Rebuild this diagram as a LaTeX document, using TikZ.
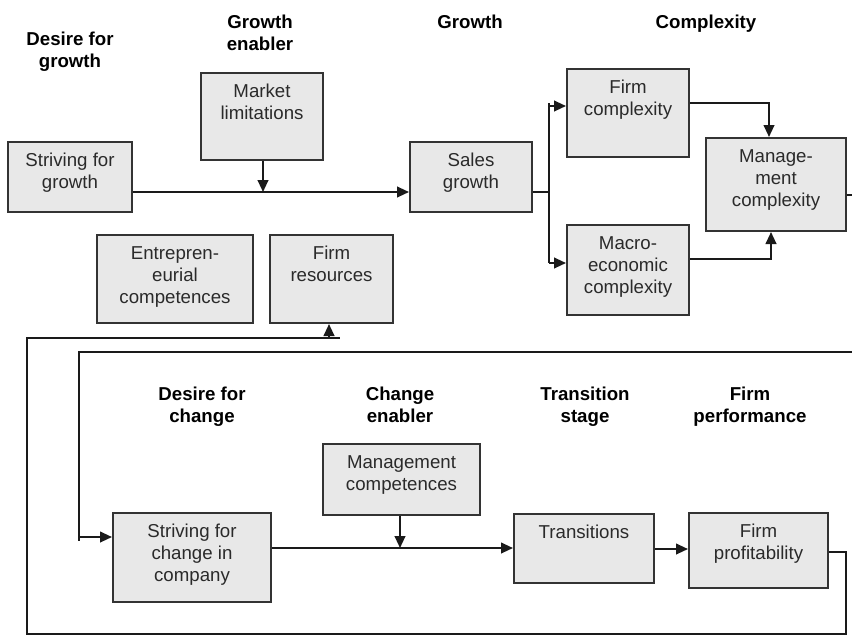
\documentclass[tikz,border=0pt]{standalone}
\usepackage{fontspec}
\setmainfont{Liberation Sans}
\usetikzlibrary{arrows.meta,fit,calc}
\definecolor{boxfill}{HTML}{E8E8E8}
\definecolor{boxline}{HTML}{333333}
\definecolor{lin}{HTML}{1A1A1A}
\definecolor{btxt}{HTML}{2A2A2A}
\begin{document}
\begin{tikzpicture}[x=0.75pt,y=-0.75pt,
 box/.style={draw=boxline, fill=boxfill, line width=1.5pt, inner sep=0pt},
 btext/.style={align=center, inner sep=0pt, font=\fontsize{14}{16.5}\selectfont, text=btxt, anchor=north},
 head/.style={align=center, inner sep=0pt, font=\bfseries\fontsize{14}{16.5}\selectfont, anchor=north},
 conn/.style={draw=lin, line width=1.5pt},
 arr/.style={conn, -{Triangle[length=9pt,width=8pt]}}]
\useasboundingbox (0,0) rectangle (852,636);

% headers
\node[head] (h1) at (70,32) {Desire for\\growth};
\node[head] (h2) at (260,15) {Growth\\enabler};
\node[head] (h3) at (470,15) {Growth};
\node[head] (h4) at (706,15) {Complexity};
\node[head] (h5) at (202,387) {Desire for\\change};
\node[head] (h6) at (400,387) {Change\\enabler};
\node[head] (h7) at (585,387) {Transition\\stage};
\node[head] (h8) at (750,387) {Firm\\performance};

% boxes
\node[box, fit={(8,142) (132,212)}] (sg) {};
\node[box, fit={(201,73) (323,160)}] (ml) {};
\node[box, fit={(410,142) (532,212)}] (sales) {};
\node[box, fit={(567,69) (689,157)}] (fc) {};
\node[box, fit={(706,138) (846,231)}] (mc) {};
\node[box, fit={(567,225) (689,315)}] (mac) {};
\node[box, fit={(97,235) (253,323)}] (ec) {};
\node[box, fit={(270,235) (393,323)}] (fr) {};
\node[box, fit={(323,444) (480,515)}] (mcomp) {};
\node[box, fit={(113,513) (271,602)}] (sc) {};
\node[box, fit={(514,514) (654,583)}] (tr) {};
\node[box, fit={(689,513) (828,588)}] (fp) {};

% box texts
\node[btext] (sg-t) at ($(sg.north)+(0,12)$) {Striving for\\growth};
\node[btext] (ml-t) at ($(ml.north)+(0,12)$) {Market\\limitations};
\node[btext] (sales-t) at ($(sales.north)+(0,12)$) {Sales\\growth};
\node[btext] (fc-t) at ($(fc.north)+(0,12)$) {Firm\\complexity};
\node[btext] (mc-t) at ($(mc.north)+(0,12)$) {Manage-\\ment\\complexity};
\node[btext] (mac-t) at ($(mac.north)+(0,12)$) {Macro-\\economic\\complexity};
\node[btext] (ec-t) at ($(ec.north)+(0,12)$) {Entrepren-\\eurial\\competences};
\node[btext] (fr-t) at ($(fr.north)+(0,12)$) {Firm\\resources};
\node[btext] (mcomp-t) at ($(mcomp.north)+(0,12)$) {Management\\competences};
\node[btext] (sc-t) at ($(sc.north)+(0,12)$) {Striving for\\change in\\company};
\node[btext] (tr-t) at ($(tr.north)+(0,12)$) {Transitions};
\node[btext] (fp-t) at ($(fp.north)+(0,12)$) {Firm\\profitability};

% connectors: growth part
\coordinate (j1) at (263,192);
\draw[arr] (sg.east |- j1) -- (sales.west |- j1);
\draw[arr] (ml.south -| j1) -- (j1);
\coordinate (s1) at (549,192);
\coordinate (s2) at (549,106);
\coordinate (s3) at (549,263);
\draw[conn] (sales.east |- s1) -- (s1);
\draw[conn] ($(s2)+(0,-3)$) -- (s3);
\draw[arr] (s2) -- (fc.west |- s2);
\draw[arr] (s3) -- (mac.west |- s3);
\coordinate (c1) at (769,103);
\draw[arr] (fc.east |- c1) -| (mc.north -| c1);
\coordinate (c2) at (771,259);
\draw[arr] (mac.east |- c2) -| (mc.south -| c2);

% loop from management complexity to striving for change
\coordinate (r1) at (858,195);
\coordinate (r2) at (858,352);
\coordinate (r3) at (79,352);
\coordinate (r4) at (79,541);
\coordinate (r5) at (79,537);
\draw[conn] (mc.east |- r1) -- (r1) -- (r2) -- (r3) -- (r4);
\draw[arr] (r5) -- (sc.west |- r5);

% change part
\coordinate (k1) at (400,548);
\draw[arr] (sc.east |- k1) -- (tr.west |- k1);
\draw[arr] (mcomp.south -| k1) -- (k1);
\coordinate (k2) at (0,549);
\draw[arr] (tr.east |- k2) -- (fp.west |- k2);

% loop from firm profitability to firm resources
\coordinate (b1) at (846,552);
\coordinate (b2) at (846,634);
\coordinate (b3) at (27,634);
\coordinate (b4) at (27,338);
\coordinate (b5) at (340,338);
\coordinate (b6) at (329,338);
\draw[conn] (fp.east |- b1) -- (b1) -- (b2) -- (b3) -- (b4) -- (b5);
\draw[arr] (b6) -- (fr.south -| b6);
\end{tikzpicture}
\end{document}
